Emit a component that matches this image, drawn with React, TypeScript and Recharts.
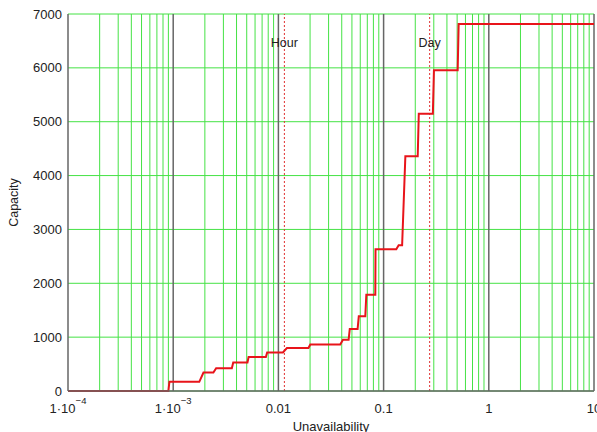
import React from "react";
import {
  LineChart,
  Line,
  XAxis,
  YAxis,
  CartesianGrid,
  ReferenceLine,
} from "recharts";

// step curve (unavailability -> capacity)
const unavailability = [
  1e-4, 9.0e-4, 9.2e-4, 1.77e-3, 1.94e-3, 2.41e-3, 2.56e-3, 3.61e-3, 3.72e-3,
  5.08e-3, 5.21e-3, 7.6e-3, 7.82e-3, 0.01104, 0.01205, 0.0193, 0.0201, 0.0387,
  0.0411, 0.0465, 0.0477, 0.0566, 0.0581, 0.067, 0.0685, 0.0834, 0.0838, 0.132,
  0.139, 0.15, 0.161, 0.211, 0.216, 0.294, 0.301, 0.506, 0.517, 10,
];
const capacity = [
  0, 0, 170, 170, 342, 342, 424, 424, 528, 528, 629, 629, 715, 715, 797, 797,
  864, 864, 951, 951, 1151, 1151, 1386, 1386, 1785, 1785, 2630, 2630, 2705,
  2705, 4360, 4360, 5150, 5150, 5957, 5957, 6815, 6815,
];

const decadeTicks = [1e-4, 1e-3, 0.01, 0.1, 1, 10];
const decadeLabels = ["1·10", "1·10", "0.01", "0.1", "1", "10"];
const decadeExponents = ["−4", "−3", "", "", "", ""];
const minorSteps = [2, 3, 4, 5, 6, 7, 8, 9];
const capacityTicks = [0, 1000, 2000, 3000, 4000, 5000, 6000, 7000];

const markers = [
  { name: "Hour", at: 0.0114 },
  { name: "Day", at: 0.274 },
];

const data = unavailability.map((u, i) => ({ u, c: capacity[i] }));

const minorLines: number[] = [];
decadeTicks.slice(0, -1).forEach((d) =>
  minorSteps.forEach((m) => minorLines.push(+(d * m).toPrecision(3)))
);

const GREEN = "#45e245";
const GREY = "#666";
const FONT = "'Liberation Sans', Arial, sans-serif";

function XTick(props: any) {
  const { x, y, payload } = props;
  const i = decadeTicks.indexOf(payload.value);
  return (
    <text
      x={x}
      y={y + 22}
      textAnchor="middle"
      fontSize={13}
      fill="#222"
      fontFamily={FONT}
    >
      {decadeLabels[i]}
      {decadeExponents[i] && (
        <tspan dy={-9} fontSize={9.5}>
          {decadeExponents[i]}
        </tspan>
      )}
    </text>
  );
}

export default function App() {
  return (
    <div style={{ width: 597, height: 432, background: "#fff" }}>
      <style>{"body{margin:0}"}</style>
      <LineChart
        width={597}
        height={432}
        data={data}
        margin={{ top: 14, right: 3, left: 0, bottom: 0 }}
        style={{ fontFamily: FONT }}
      >
        <CartesianGrid vertical={false} stroke={GREEN} strokeWidth={1} />
        {minorLines.map((v) => (
          <ReferenceLine key={v} x={v} stroke={GREEN} strokeWidth={1} />
        ))}
        {decadeTicks.slice(1).map((v) => (
          <ReferenceLine key={"d" + v} x={v} stroke={GREY} strokeWidth={1.5} />
        ))}
        {markers.map((m) => (
          <ReferenceLine
            key={m.name}
            x={m.at}
            stroke="#e03030"
            strokeDasharray="2 2"
            strokeWidth={1}
            label={{
              value: m.name,
              position: "insideTop",
              offset: 24,
              fill: "#222",
              fontSize: 12.5,
            }}
          />
        ))}
        <XAxis
          dataKey="u"
          type="number"
          scale="log"
          domain={[1e-4, 10]}
          allowDataOverflow
          ticks={decadeTicks}
          tick={<XTick />}
          tickLine={false}
          tickSize={0}
          tickMargin={0}
          height={41}
          stroke={GREY}
          strokeWidth={1.5}
          interval={0}
          label={{
            value: "Unavailability",
            position: "insideBottom",
            offset: 1,
            fill: "#222",
            fontSize: 13,
          }}
        />
        <YAxis
          type="number"
          domain={[0, 7000]}
          ticks={capacityTicks}
          interval={0}
          width={68}
          tickLine={false}
          tickSize={0}
          tickMargin={6}
          stroke={GREY}
          strokeWidth={1.5}
          tick={{ fontSize: 13, fill: "#222" }}
          label={{
            value: "Capacity",
            angle: -90,
            position: "insideLeft",
            offset: 14,
            fill: "#222",
            fontSize: 12.5,
            style: { textAnchor: "middle" },
          }}
        />
        <Line
          dataKey="c"
          type="linear"
          stroke="#e8141a"
          strokeWidth={2}
          dot={false}
          isAnimationActive={false}
        />
      </LineChart>
    </div>
  );
}
